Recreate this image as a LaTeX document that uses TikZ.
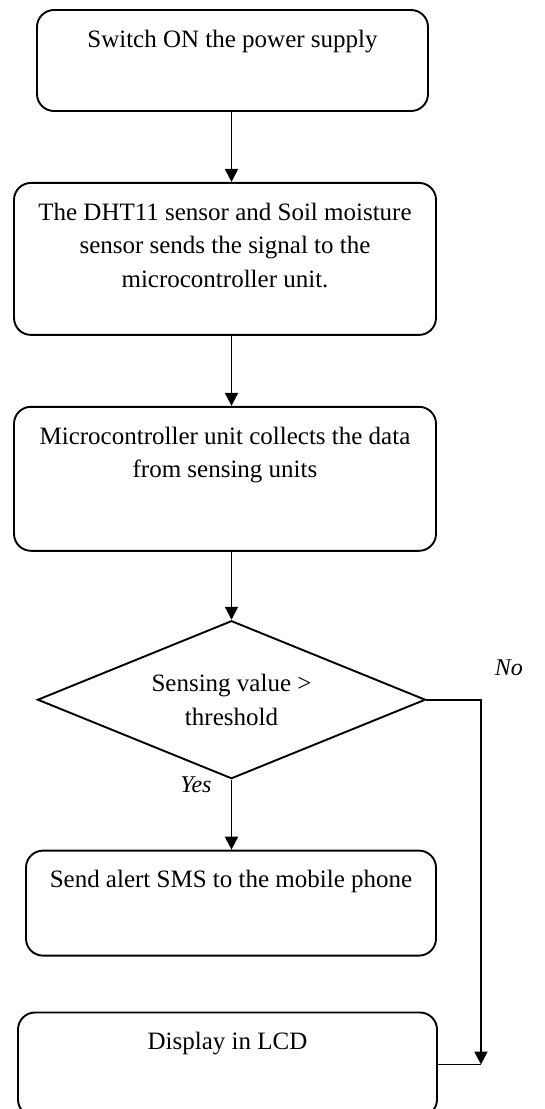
\documentclass[tikz,border=0pt]{standalone}
\usepackage{fontspec}
\setmainfont{Liberation Serif}
\usetikzlibrary{shapes.geometric, arrows.meta, positioning}
\newcommand{\boxtext}[3]{\parbox[c][#2][t]{#1}{\centering\vspace*{20pt}#3}}

\begin{document}
\begin{tikzpicture}[
      node distance = 70pt,
      block/.style={rectangle, draw, rounded corners=17pt, inner sep=0pt, line width=1.9pt, font=\fontsize{25}{33.5}\selectfont},
      decision/.style={diamond, draw, aspect=2.46, inner sep=0pt, minimum width=388pt, minimum height=158pt, line width=1.9pt, align=center, font=\fontsize{25}{33.5}\selectfont},
      line/.style={draw, -{Triangle[length=13pt, width=13pt]}, line width=1.9pt},
      plain_line/.style={draw, line width=1.9pt},
      answer/.style={inner sep=0pt, font=\fontsize{24}{28}\selectfont\itshape}
  ]
  \useasboundingbox (0,0) rectangle (544pt,-1109pt);

  \node [block] (power) at (232.5pt,-60.5pt) {\boxtext{391pt}{101pt}{Switch ON the power supply}};
  \node [block, below=70pt of power, xshift=-7.5pt] (sense) {\boxtext{422pt}{152pt}{The DHT11 sensor and Soil moisture\\ sensor sends the signal to the\\ microcontroller unit.}};
  \node [block, below=70pt of sense] (collect) {\boxtext{422pt}{144pt}{Microcontroller unit collects the data\\ from sensing units}};
  \node [decision, below=68pt of collect, xshift=6.5pt] (cond) {Sensing value >\\ threshold};
  \node [block, below=70pt of cond, xshift=-0.5pt] (sms) {\boxtext{410pt}{105pt}{Send alert SMS to the mobile phone}};
  \node [block, below=55pt of sms, xshift=-3.5pt] (lcd) {\boxtext{419pt}{104pt}{Display in LCD}};
  \coordinate [right=43pt of lcd.east] (noend);

  \path [line] (power.south -| cond) -- (sense.north -| cond);
  \path [line] (sense.south -| cond) -- (collect.north -| cond);
  \path [line] (collect.south -| cond) -- (cond);
  \path [line] (cond) -- node[pos=0.07, left=19pt, answer] {Yes} (sms.north -| cond);
  \path [line] (cond.east) -| node[pos=0.5, above right=23pt and 13pt, answer] {No} (noend);
  \path [plain_line] (lcd.east) -- (noend);

\end{tikzpicture}
\end{document}
